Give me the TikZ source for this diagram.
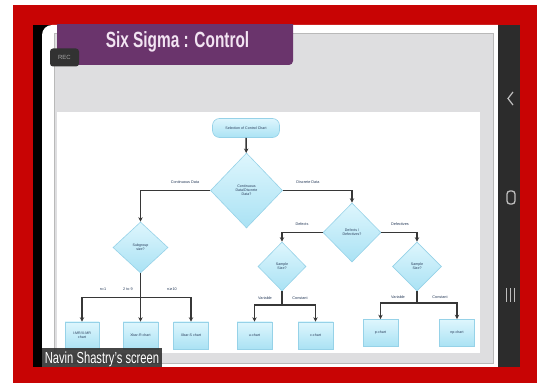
\documentclass[tikz,border=0pt]{standalone}
\usepackage{fontspec}
\setmainfont{Liberation Sans}
\usetikzlibrary{shapes.geometric,arrows.meta}
\definecolor{framered}{RGB}{200,4,4}
\definecolor{panelgray}{RGB}{222,222,224}
\definecolor{darkpanel}{RGB}{44,44,44}
\definecolor{tabpurple}{RGB}{106,52,108}
\definecolor{titletxt}{RGB}{242,228,242}
\definecolor{recgray}{RGB}{50,50,50}
\definecolor{boxedge}{RGB}{150,210,232}
\definecolor{boxtop}{RGB}{222,246,253}
\definecolor{boxbot}{RGB}{170,226,244}
\definecolor{linecol}{RGB}{55,55,55}
\definecolor{txtcol}{RGB}{40,60,90}
\definecolor{iconcol}{RGB}{190,190,190}
\tikzset{
  fcbox/.style={draw=boxedge, line width=0.6pt, top color=boxtop, bottom color=boxbot,
    minimum width=35pt, minimum height=27pt, inner sep=1pt, align=center,
    font=\fontsize{3.6}{4.2}\selectfont, text=txtcol},
  fcstart/.style={fcbox, rounded corners=7pt, minimum width=67pt, minimum height=19pt},
  fcdia/.style={diamond, draw=boxedge, line width=0.6pt, top color=boxtop, bottom color=boxbot,
    inner sep=0pt, align=center, font=\fontsize{3.6}{4.2}\selectfont, text=txtcol},
  fclab/.style={font=\fontsize{3.8}{4.2}\selectfont, text=txtcol, inner sep=0.5pt},
  conn/.style={draw=linecol, line width=1.6pt},
  arr/.style={conn, -{Stealth[length=4.5pt,width=4.5pt]}},
}
\begin{document}
\begin{tikzpicture}[x=1pt,y=-1pt]
\useasboundingbox (0,0) rectangle (539,385);
\fill[white] (0,0) rectangle (539,385);
\fill[framered] (13,5) rectangle (537,383);
\fill[black] (33,25) rectangle (520,367);
\fill[white] (42,367) [rounded corners=10pt]-- (42,25) [sharp corners]-- (498,25) -- (498,367) -- cycle;
\filldraw[fill=panelgray, draw=gray!55, line width=0.8pt] (54,33) rectangle (493,363);
\fill[white] (57,112) rectangle (480,353);
\fill[darkpanel] (498,25) rectangle (520,367);
% title tab
\begin{scope}
\clip (41,25) rectangle (498,367);
\fill[tabpurple, rounded corners=4pt] (57,10) rectangle (293,65);
\end{scope}
\node[text=titletxt, font=\bfseries\fontsize{22}{22}\selectfont] (title) at (177.5,42) {\scalebox{0.7}[1]{Six Sigma : Control}};
\node[fill=recgray, rounded corners=3pt, minimum width=29pt, minimum height=18pt, inner sep=0pt,
  text=gray!70, font=\fontsize{6}{6}\selectfont] (rec) at (64.5,57.5) {REC};
% flowchart
\node[fcstart] (start) at (246,128) {Selection of Control Chart};
\node[fcdia, minimum width=72pt, minimum height=75pt] (d1) at (246.5,190.5) {Continuous\\Data/Discrete\\Data?};
\node[fcdia, minimum width=55pt, minimum height=51pt] (d2) at (140.5,247.5) {Subgroup\\size?};
\node[fcdia, minimum width=58pt, minimum height=59pt] (d3) at (352,232.5) {Defects /\\Defectives?};
\node[fcdia, minimum width=48pt, minimum height=49pt] (d4) at (282,266.5) {Sample\\Size?};
\node[fcdia, minimum width=49pt, minimum height=49pt] (d5) at (417,266.5) {Sample\\Size?};
\node[fcbox, minimum width=34pt] (b1) at (82,335.5) {I-MR/X-MR\\chart};
\node[fcbox] (b2) at (140.5,335.5) {Xbar-R chart};
\node[fcbox] (b3) at (191,335.5) {Xbar-S chart};
\node[fcbox] (b4) at (254.5,335.5) {u-chart};
\node[fcbox] (b5) at (315.5,335.5) {c-chart};
\node[fcbox] (b6) at (380.5,333) {p-chart};
\node[fcbox] (b7) at (457,333) {np-chart};
\coordinate (j2) at (140.5,297.5);
\coordinate (j4) at (282,305);
\coordinate (j5) at (417,303);
\draw[arr] (start) -- (d1);
\draw[arr] (d1.west) -| (d2.north);
\draw[arr] (d1.east) -| (d3.north);
\draw[arr] (d3.west) -| (d4.north);
\draw[arr] (d3.east) -| (d5.north);
\draw[conn] (d2.south) -- (j2);
\draw[arr] (j2) -| (b1.north);
\draw[arr] (j2) -- (b2.north);
\draw[arr] (j2) -| (b3.north);
\draw[conn] (d4.south) -- (j4);
\draw[arr] (j4) -| (b4.north);
\draw[arr] (j4) -| (b5.north);
\draw[conn] (d5.south) -- (j5);
\draw[arr] (j5) -| (b6.north);
\draw[arr] (j5) -| (b7.north);
% labels
\node[fclab] (l1) at (185,182) {Continuous Data};
\node[fclab] (l2) at (308,182) {Discrete Data};
\node[fclab] (l3) at (302,224) {Defects};
\node[fclab] (l4) at (400,224) {Defectives};
\node[fclab] (l5) at (103,289) {n=1};
\node[fclab] (l6) at (128,289) {2 to 9};
\node[fclab] (l7) at (172,289) {n{\fontspec{DejaVu Sans}≥}10};
\node[fclab] (l8) at (265,298) {Variable};
\node[fclab] (l9) at (300,298) {Constant};
\node[fclab] (l10) at (398,297) {Variable};
\node[fclab] (l11) at (440,297) {Constant};
% overlay
\fill[gray!35!black, opacity=0.88] (42,348) rectangle (162,367);
\node[text=white, font=\fontsize{16}{16}\selectfont] (who) at (102,359) {\scalebox{0.7}[1]{Navin Shastry's screen}};
\fill[framered] (13,367) rectangle (537,383);
% nav icons
\draw[iconcol, line width=1.2pt] (513,92) -- (508,98.5) -- (513,105);
\draw[iconcol, line width=1.3pt, rounded corners=3pt] (507,191) rectangle (515,204);
\draw[iconcol, line width=1.2pt] (506.5,288) -- (506.5,302) (510.5,288) -- (510.5,302) (514.5,288) -- (514.5,302);
\end{tikzpicture}
\end{document}
